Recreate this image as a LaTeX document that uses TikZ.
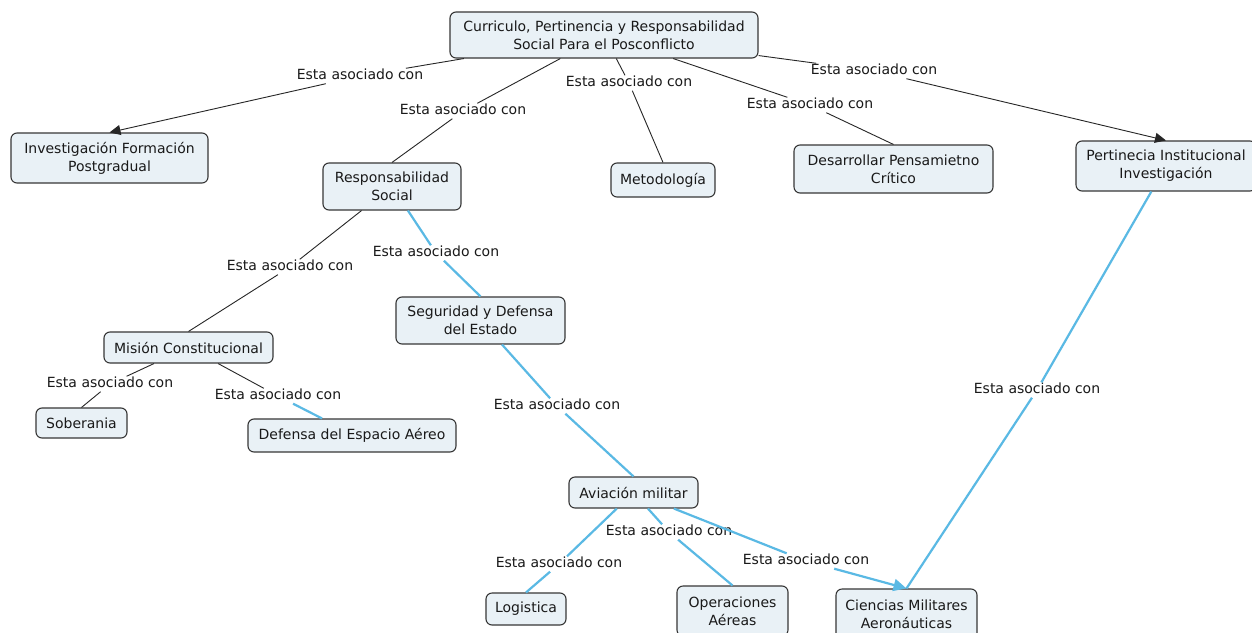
\documentclass[tikz,border=0pt]{standalone}
\usepackage{fontspec}
\setmainfont{DejaVu Sans}
\usetikzlibrary{arrows.meta}
\definecolor{boxfill}{RGB}{233,241,246}
\definecolor{boxline}{RGB}{55,55,55}
\definecolor{linkblue}{RGB}{90,185,228}
\definecolor{txt}{RGB}{25,25,25}
\begin{document}
\begin{tikzpicture}[x=1pt,y=-1pt,
  concept/.style={draw=boxline, fill=boxfill, rounded corners=6pt, line width=1.1pt,
    align=center, inner sep=0pt, text=txt, font=\fontsize{14}{18}\selectfont},
  link/.style={inner sep=1pt, text height=10pt, text depth=3pt, text=txt,
    font=\fontsize{14}{18}\selectfont},
  blk/.style={draw=black!85, line width=0.9pt},
  blu/.style={draw=linkblue, line width=2.2pt},
  tipk/.style={-{Triangle[length=11pt,width=10pt]}},
  tipb/.style={-{Triangle[length=13pt,width=12pt]}},
]
\useasboundingbox (0,0) rectangle (1252,632);
\fill[white] (0,0) rectangle (1252,632);

% concepts
\node[concept, minimum width=308pt, minimum height=46pt] (cur) at (604,35)
  {Curriculo, Pertinencia y Responsabilidad\\Social Para el Posconflicto};
\node[concept, minimum width=197pt, minimum height=50pt] (inv) at (109.5,158)
  {Investigación Formación\\Postgradual};
\node[concept, minimum width=138pt, minimum height=47pt] (res) at (392,186.5)
  {Responsabilidad\\Social};
\node[concept, minimum width=104pt, minimum height=34pt] (met) at (663,180)
  {Metodología};
\node[concept, minimum width=199pt, minimum height=48pt] (des) at (893.5,169)
  {Desarrollar Pensamietno\\Crítico};
\node[concept, minimum width=180pt, minimum height=50pt] (per) at (1166,166)
  {Pertinecia Institucional\\Investigación};
\node[concept, minimum width=169pt, minimum height=31pt] (mis) at (188.5,347.5)
  {Misión Constitucional};
\node[concept, minimum width=91pt, minimum height=30pt] (sob) at (81.5,423)
  {Soberania};
\node[concept, minimum width=208pt, minimum height=33pt] (def) at (352,435.5)
  {Defensa del Espacio Aéreo};
\node[concept, minimum width=169pt, minimum height=47pt] (seg) at (480.5,320.5)
  {Seguridad y Defensa\\del Estado};
\node[concept, minimum width=129pt, minimum height=31pt] (avi) at (633.5,492.5)
  {Aviación militar};
\node[concept, minimum width=80pt, minimum height=32pt] (log) at (526,609)
  {Logistica};
\node[concept, minimum width=111pt, minimum height=50pt] (ope) at (732.5,611)
  {Operaciones\\Aéreas};
\node[concept, minimum width=141pt, minimum height=50pt] (cie) at (906.5,614)
  {Ciencias Militares\\Aeronáuticas};

% linking phrases
\node[link] (l1) at (360,76) {Esta asociado con};
\node[link] (l2) at (463,111) {Esta asociado con};
\node[link] (l3) at (629,83) {Esta asociado con};
\node[link] (l4) at (810,105) {Esta asociado con};
\node[link] (l5) at (874,71) {Esta asociado con};
\node[link] (l6) at (290,267) {Esta asociado con};
\node[link] (l7) at (436,253) {Esta asociado con};
\node[link] (l8) at (110,384) {Esta asociado con};
\node[link] (l9) at (278,396) {Esta asociado con};
\node[link] (l10) at (557,406) {Esta asociado con};
\node[link] (l11) at (559,564) {Esta asociado con};
\node[link] (l12) at (669,532) {Esta asociado con};
\node[link] (l13) at (806,561) {Esta asociado con};
\node[link] (l14) at (1037,390) {Esta asociado con};

% connectors
\draw[blk] (cur) -- (l1);
\draw[blk,tipk] (l1) -- (inv.north);
\draw[blk] (cur) -- (l2);
\draw[blk] (l2) -- (res.north);
\draw[blk] (cur) -- (l3);
\draw[blk] (l3) -- (met.north);
\draw[blk] (cur) -- (l4);
\draw[blk] (l4) -- (des.north);
\draw[blk] (cur) -- (l5);
\draw[blk,tipk] (l5) -- (per.north);
\draw[blk] (res) -- (l6);
\draw[blk] (l6) -- (mis.north);
\draw[blu] (res) -- (l7);
\draw[blu] (l7) -- (seg.north);
\draw[blk] (mis) -- (l8);
\draw[blk] (l8) -- (sob.north);
\draw[blk] (mis) -- (l9);
\draw[blu] (l9) -- ([xshift=-30pt]def.north);
\draw[blu] (seg) -- (l10);
\draw[blu] (l10) -- (avi.north);
\draw[blu] (avi) -- (l11);
\draw[blu] (l11) -- (log.north);
\draw[blu] (avi) -- (l12);
\draw[blu] (l12) -- (ope.north);
\draw[blu] (avi) -- (l13);
\draw[blu,tipb] (l13) -- (cie.north);
\draw[blu] (per) -- (l14);
\draw[blu] (l14) -- (cie.north);
\end{tikzpicture}
\end{document}
